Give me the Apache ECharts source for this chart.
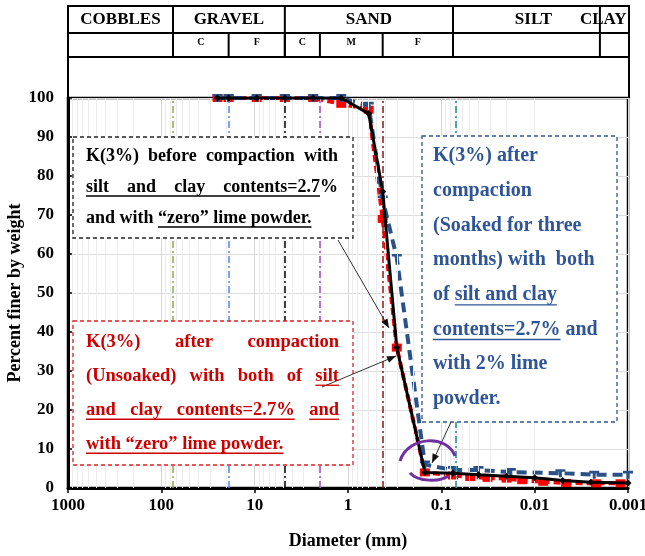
<!DOCTYPE html>
<html><head><meta charset="utf-8">
<script src="https://cdn.jsdelivr.net/npm/echarts@6/dist/echarts.min.js"></script>
<style>html,body{margin:0;padding:0;background:#fff}#c{width:645px;height:556px}</style>
</head><body><div id="c"></div>
<script>
// ---- data ----
const blackDiam = [25, 19, 9.5, 4.75, 2.36, 1.18, 0.6, 0.425, 0.3, 0.15, 0.075, 0.04, 0.02, 0.01, 0.005, 0.0025, 0.001];
const blackPct  = [100, 100, 100, 100, 100, 100, 96, 76, 36, 4, 3.8, 3.4, 3.0, 2.6, 1.9, 1.5, 1.3];
const redDiam   = [25, 19, 9.5, 4.75, 2.36, 1.18, 0.6, 0.425, 0.3, 0.15, 0.075, 0.049, 0.032, 0.02, 0.0136, 0.0081, 0.0046, 0.0022, 0.0012];
const redPct    = [100, 100, 100, 100, 100, 98.5, 97, 69, 36, 4, 3.2, 2.8, 2.6, 2.4, 2.0, 1.6, 1.3, 1.2, 1.2];
const blueDiam  = [25, 19, 9.5, 4.75, 2.36, 1.18, 0.6, 0.425, 0.3, 0.15, 0.075, 0.04, 0.018, 0.0053, 0.0023, 0.001];
const bluePct   = [100, 100, 100, 100, 100, 100, 98, 74, 59, 6, 4.6, 4.6, 4.1, 3.8, 3.4, 3.4];

const xTickLabels = ['1000', '100', '10', '1', '0.1', '0.01', '0.001'];
const boundaryDiam  = [75, 19, 4.75, 2, 0.425, 0.075];
const boundaryColor = ['#8faa4f', '#4f86e8', '#000000', '#a04ac0', '#8b1a1a', '#1a8a8a'];
const headerMain = [1000, 75, 4.75, 0.075, 0.002, 0.001];
const headerMainLabels = ['COBBLES', 'GRAVEL', 'SAND', 'SILT', 'CLAY'];
const headerSub = [75, 19, 4.75, 2, 0.425, 0.075];
const headerSubLabels = ['C', 'F', 'C', 'M', 'F'];

const FONT = '"Liberation Serif", "Times New Roman", serif';
const zip = (a, b) => a.map((v, i) => [v, b[i]]);

// minor log grid values (2..9 per decade)
const minorVals = [];
for (let e = -3; e < 3; e++) for (let k = 2; k <= 9; k++) minorVals.push(+(k * Math.pow(10, e)).toPrecision(6));

const chart = echarts.init(document.getElementById('c'), null, {renderer: 'canvas'});
chart.setOption({
  animation: false,
  backgroundColor: '#fff',
  grid: {left: 68, right: 17, top: 98, bottom: 68, outerBoundsMode: 'none', containLabel: false,
    show: true, borderColor: '#000', borderWidth: 2.5, backgroundColor: '#fff'},
  xAxis: {
    type: 'log', logBase: 10, min: 0.001, max: 1000, inverse: true,
    name: 'Diameter (mm)', nameLocation: 'middle', nameGap: 44, nameMoveOverlap: false,
    nameTextStyle: {fontFamily: FONT, fontWeight: 'bold', fontSize: 18, color: '#000'},
    axisLine: {lineStyle: {color: '#000', width: 3}},
    axisTick: {show: true, length: 5, lineStyle: {color: '#000', width: 1.5}},
    axisLabel: {fontFamily: FONT, fontWeight: 'bold', fontSize: 17, color: '#000', margin: 9, hideOverlap: false,
      formatter: v => { const s = String(+(+v).toPrecision(6)); return xTickLabels.indexOf(s) >= 0 ? s : ''; }},
    splitLine: {show: true, lineStyle: {color: '#d6d6d6', width: 1}}
  },
  yAxis: {
    type: 'value', min: 0, max: 100, interval: 10,
    name: 'Percent finer by weight', nameLocation: 'middle', nameGap: 44, nameMoveOverlap: false,
    nameTextStyle: {fontFamily: FONT, fontWeight: 'bold', fontSize: 18, color: '#000'},
    axisLine: {show: true, lineStyle: {color: '#000', width: 3}},
    axisTick: {show: true, inside: true, length: 5, lineStyle: {color: '#000', width: 1.5}},
    axisLabel: {fontFamily: FONT, fontWeight: 'bold', fontSize: 17, color: '#000', margin: 14},
    splitLine: {show: true, lineStyle: {color: '#dcdcdc', width: 1}}
  },
  series: [
    {type: 'line', data: [], silent: true, z: 1,
      markLine: {silent: true, symbol: 'none', label: {show: false}, animation: false,
        lineStyle: {color: '#ececec', width: 1, type: 'solid'},
        data: minorVals.map(v => ({xAxis: v}))}},
    {type: 'line', data: [], silent: true, z: 1,
      markLine: {silent: true, symbol: 'none', label: {show: false}, animation: false,
        data: boundaryDiam.map((v, i) => ({xAxis: v, lineStyle: {color: boundaryColor[i], width: 1.5, type: [7, 3, 2, 3]}}))}},
    {name: 'red', type: 'line', data: zip(redDiam, redPct), z: 3,
      lineStyle: {color: '#ff0000', width: 4, type: [7, 4]},
      symbol: 'rect', symbolSize: [10, 8], itemStyle: {color: '#ff0000'}},
    {name: 'blue', type: 'line', data: zip(blueDiam, bluePct), z: 4,
      lineStyle: {color: '#2a5288', width: 4, type: [10, 6]},
      symbol: 'path://M0,0 L10,0 L10,3 L6.5,3 L6.5,9 L3.5,9 L3.5,3 L0,3 Z', symbolSize: [10, 8],
      itemStyle: {color: '#2a5288'}},
    {name: 'black', type: 'line', data: zip(blackDiam, blackPct), z: 5,
      lineStyle: {color: '#000', width: 3},
      symbol: 'diamond', symbolSize: 7, itemStyle: {color: '#000'}}
  ]
});

// ---- annotation graphics ----
const cv = document.createElement('canvas').getContext('2d');
function tw(t, size) { cv.font = 'bold ' + size + 'px ' + FONT; return cv.measureText(t).width; }
const G = [];
function textLine(words, x, y, width, justify, size, color) {
  words = words.map(w => typeof w === 'string' ? {t: w} : w);
  const ws = words.map(w => tw(w.t, size));
  const total = ws.reduce((a, b) => a + b, 0);
  const gaps = words.filter((w, i) => i > 0 && !w.j).length;
  const gap = (justify && gaps) ? (width - total) / gaps : tw(' ', size);
  let cx = x, run = null;
  const runs = [];
  words.forEach((w, i) => {
    if (i > 0 && !w.j) cx += gap;
    G.push({type: 'text', x: cx, y: y, z: 120,
      style: {text: w.t, font: 'bold ' + size + 'px ' + FONT, fill: color, verticalAlign: 'middle', align: 'left'}});
    if (w.u) {
      if (run && !w.b) run[1] = cx + ws[i]; else { run = [cx, cx + ws[i]]; runs.push(run); }
    } else run = null;
    cx += ws[i];
  });
  runs.forEach(r => G.push({type: 'line', z: 120, shape: {x1: r[0], y1: y + size * 0.5, x2: r[1], y2: y + size * 0.5},
    style: {stroke: color, lineWidth: 1.3}}));
}
function box(x, y, w, h, color) {
  G.push({type: 'rect', z: 110, shape: {x: x, y: y, width: w, height: h},
    style: {fill: '#fff', stroke: color, lineWidth: 1.3, lineDash: [4, 3]}});
}
function arrow(x1, y1, x2, y2) {
  G.push({type: 'line', z: 115, shape: {x1, y1, x2, y2}, style: {stroke: '#333', lineWidth: 1}});
  const a = Math.atan2(y2 - y1, x2 - x1), L = 9, W = 3.5;
  const bx = x2 - L * Math.cos(a), by = y2 - L * Math.sin(a);
  G.push({type: 'polygon', z: 115, shape: {points: [[x2, y2],
    [bx + W * Math.sin(a), by - W * Math.cos(a)], [bx - W * Math.sin(a), by + W * Math.cos(a)]]},
    style: {fill: '#111'}});
}

// black box
box(73, 137, 280, 101, '#222');
textLine(['K(3%)', 'before', 'compaction', 'with'], 86, 156, 252, true, 18, '#000');
textLine([{t: 'silt', u: 1}, {t: 'and', u: 1}, {t: 'clay', u: 1}, {t: 'contents=2.7', u: 1}, {t: '%', j: 1}], 86, 187, 252, true, 18, '#000');
textLine(['and', 'with', {t: '\u201Czero\u201D', u: 1}, {t: 'lime', u: 1}, {t: 'powder.', u: 1}], 86, 218, 252, false, 18, '#000');
// red box
const RC = '#cc0000';
box(73, 321, 280, 144, '#e02020');
textLine(['K(3%)', 'after', 'compaction'], 86, 342, 253, true, 18.5, RC);
textLine(['(Unsoaked)', 'with', 'both', 'of', {t: 'silt', u: 1}], 86, 376, 253, true, 18.5, RC);
textLine([{t: 'and', u: 1}, {t: 'clay', u: 1}, {t: 'contents=2.7%', u: 1}, {t: 'and', u: 1, b: 1}], 86, 410, 253, true, 18.5, RC);
textLine([{t: 'with', u: 1}, {t: '\u201Czero\u201D', u: 1}, {t: 'lime', u: 1}, {t: 'powder.', u: 1}], 86, 444, 253, false, 18.5, RC);
// blue box
const BC = '#2f5597';
box(422, 136, 195, 286, BC);
const bl = [
  ['K(3%)', 'after'], ['compaction'], ['(Soaked', 'for', 'three'], ['months)', 'with', ' both'],
  ['of', {t: 'silt', u: 1}, {t: 'and', u: 1}, {t: 'clay', u: 1}], [{t: 'contents=2.7%', u: 1}, 'and'],
  ['with', '2%', 'lime'], ['powder.']];
bl.forEach((w, i) => textLine(w, 433, 156 + i * 34.7, 0, false, 20, BC));

// arrows
arrow(338, 240, 389, 328);
arrow(322, 387, 396, 356);
arrow(451, 422, 432, 463);
// purple arcs
G.push({type: 'bezierCurve', z: 116, shape: {x1: 400, y1: 461, cpx1: 408, cpy1: 436, cpx2: 447, cpy2: 434, x2: 455, y2: 456},
  style: {stroke: '#7030a0', lineWidth: 3, fill: null}});
G.push({type: 'bezierCurve', z: 116, shape: {x1: 410, y1: 473, cpx1: 418, cpy1: 482, cpx2: 440, cpy2: 482, x2: 448, y2: 476},
  style: {stroke: '#7030a0', lineWidth: 3, fill: null}});

// header table
const px = d => chart.convertToPixel({xAxisIndex: 0}, d);
const yTop = chart.convertToPixel({yAxisIndex: 0}, 100);
const xL = px(1000), xR = px(0.001) + 1;
const ln = (x1, y1, x2, y2, w) => G.push({type: 'line', z: 100, shape: {x1, y1, x2, y2}, style: {stroke: '#000', lineWidth: w || 2}});
[6, 33, 57].forEach(y => ln(xL - 1, y, xR + 1, y));
ln(xL, 6, xL, yTop); ln(xR, 6, xR, yTop);
headerMain.slice(1, -1).forEach(d => ln(px(d), 6, px(d), 57));
headerSub.slice(1, -1).forEach(d => ln(px(d), 33, px(d), 57));
const HF = 'bold 17px ' + FONT;
headerMainLabels.forEach((t, i) => {
  let cx = (px(headerMain[i]) + px(headerMain[i + 1])) / 2;
  const isClay = t === 'CLAY';
  if (t === 'SILT') cx += 7;
  G.push({type: 'text', z: 101, x: isClay ? px(headerMain[i]) - 20 : cx, y: 20,
    style: {text: t, font: HF, fill: '#000', align: isClay ? 'left' : 'center', verticalAlign: 'middle'}});
});
headerSubLabels.forEach((t, i) => {
  const cx = (px(headerSub[i]) + px(headerSub[i + 1])) / 2;
  G.push({type: 'text', z: 101, x: cx, y: 42,
    style: {text: t, font: 'bold 10px ' + FONT, fill: '#000', align: 'center', verticalAlign: 'middle'}});
});

chart.setOption({graphic: {elements: G}});
</script></body></html>
